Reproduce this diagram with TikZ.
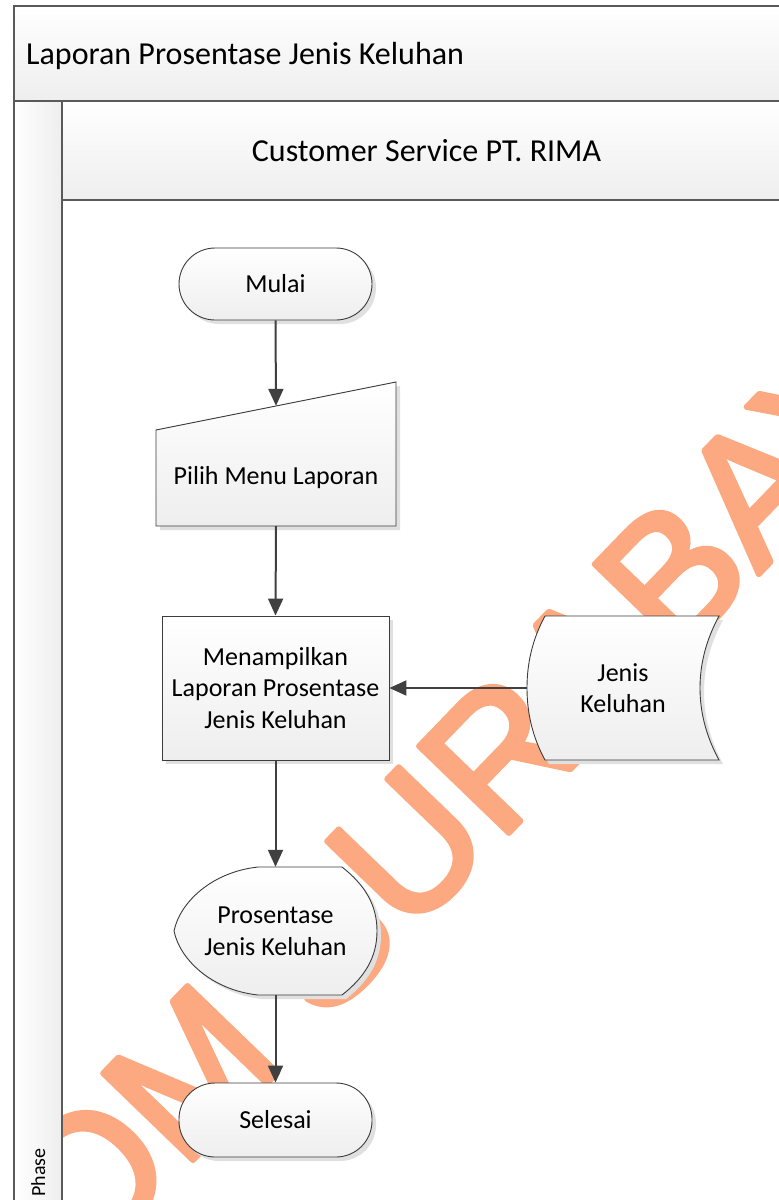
\documentclass[tikz,border=0pt]{standalone}
\usepackage{fontspec}
\setmainfont{Carlito}
\newfontfamily\wmfont{Liberation Sans}
\usetikzlibrary{arrows.meta,calc}
\definecolor{framecol}{RGB}{90,90,90}
\definecolor{arrcol}{RGB}{64,64,64}
\definecolor{edgecol}{RGB}{60,60,60}
\definecolor{wmcol}{RGB}{252,169,129}
\definecolor{shadecol}{RGB}{238,238,238}
\definecolor{shadowcol}{RGB}{224,224,224}
\newcommand{\thicktext}[1]{\special{pdf:literal direct 2 Tr 5.5 w 1 j}#1\special{pdf:literal direct 0 Tr}}
\begin{document}
\begin{tikzpicture}[x=1pt,y=-1pt,
  frame/.style={draw=framecol,line width=2pt},
  band/.style={top color=white,bottom color=shadecol},
  shapebase/.style={draw=edgecol,line width=0.9pt,top color=white,bottom color=shadecol,
    preaction={fill=shadowcol,transform canvas={xshift=4pt,yshift=-4pt}}},
  arr/.style={draw=arrcol,line width=2pt,-{Triangle[length=17pt,width=15pt]}},
  txt/.style={font=\fontsize{26}{31.5}\selectfont,align=center,text=black,inner sep=0pt},
  hdr/.style={font=\fontsize{32}{38}\selectfont,text=black,inner sep=0pt},
  term/.style={txt,shapebase,rounded corners=36pt,minimum width=193pt},
  labelbox/.style={txt,draw=none},
  wm/.style={font=\wmfont\fontsize{182}{182}\selectfont,text=wmcol,rotate=46,anchor=base,inner sep=0pt}
]
\useasboundingbox (0,0) rectangle (779,1200);
\clip (0,0) rectangle (779,1200);
\fill[white] (0,0) rectangle (779,1200);
% watermark
\node[wm] (wmark) at (398,948) {\thicktext{STIKOM SURABAYA}};
% pool and lane
\path[band] (14,6) rectangle (800,101);
\path[left color=white,right color=shadecol] (14,101) rectangle (62,1220);
\path[band] (62,101) rectangle (800,200);
\draw[frame] (14,6) rectangle (800,1220);
\draw[frame] (14,101) -- (800,101);
\draw[frame] (62,101) -- (62,1220);
\draw[frame] (62,200) -- (800,200);
\node[hdr,anchor=base west] (pooltitle) at (26,64) {Laporan Prosentase Jenis Keluhan};
\node[hdr,anchor=base] (lanetitle) at (426.5,161) {Customer Service PT. RIMA};
\node[font=\fontsize{20}{24}\selectfont,rotate=90,anchor=base west,inner sep=0pt] (phase) at (45,1197) {Phase};
% shapes
\node[term,minimum height=72pt] (mulai) at (275.5,284) {Mulai};
\path[shapebase] (156,526) -- (156,430) -- (396,382) -- (396,526) -- cycle;
\node[labelbox,minimum width=240pt,minimum height=96pt] (pilih) at (276,478) {Pilih Menu Laporan};
\node[txt,shapebase,minimum width=227pt,minimum height=144pt] (tampil) at (275.5,688) {Menampilkan\\Laporan Prosentase\\Jenis Keluhan};
\path[shapebase] (545,616) -- (719,616) .. controls (706,640) and (700,664) .. (700,688)
  .. controls (700,712) and (706,736) .. (719,760) -- (545,760)
  .. controls (532,736) and (527,712) .. (527,688) .. controls (527,664) and (532,640) .. (545,616) -- cycle;
\node[labelbox,minimum width=192pt,minimum height=144pt] (jenis) at (623,688) {Jenis\\Keluhan};
\path[shapebase] (258,867) -- (342,867) .. controls (365,885) and (377,905) .. (377,931)
  .. controls (377,957) and (365,977) .. (342,995) -- (258,995)
  .. controls (212,990) and (180,960) .. (174,931) .. controls (180,902) and (212,872) .. (258,867) -- cycle;
\node[labelbox,minimum width=203pt,minimum height=128pt] (disp) at (275.5,931) {Prosentase\\Jenis Keluhan};
\node[term,minimum height=74pt] (selesai) at (275.5,1120) {Selesai};
% connectors
\coordinate (pilihin) at ($(pilih.north)+(0,-24)$);
\draw[arr] (mulai.south) -- (pilihin);
\draw[arr] (pilih.south) -- (tampil.north);
\draw[arr] (jenis.west) -- (tampil.east);
\draw[arr] (tampil.south) -- (disp.north);
\draw[arr] (disp.south) -- (selesai.north);
\end{tikzpicture}
\end{document}
